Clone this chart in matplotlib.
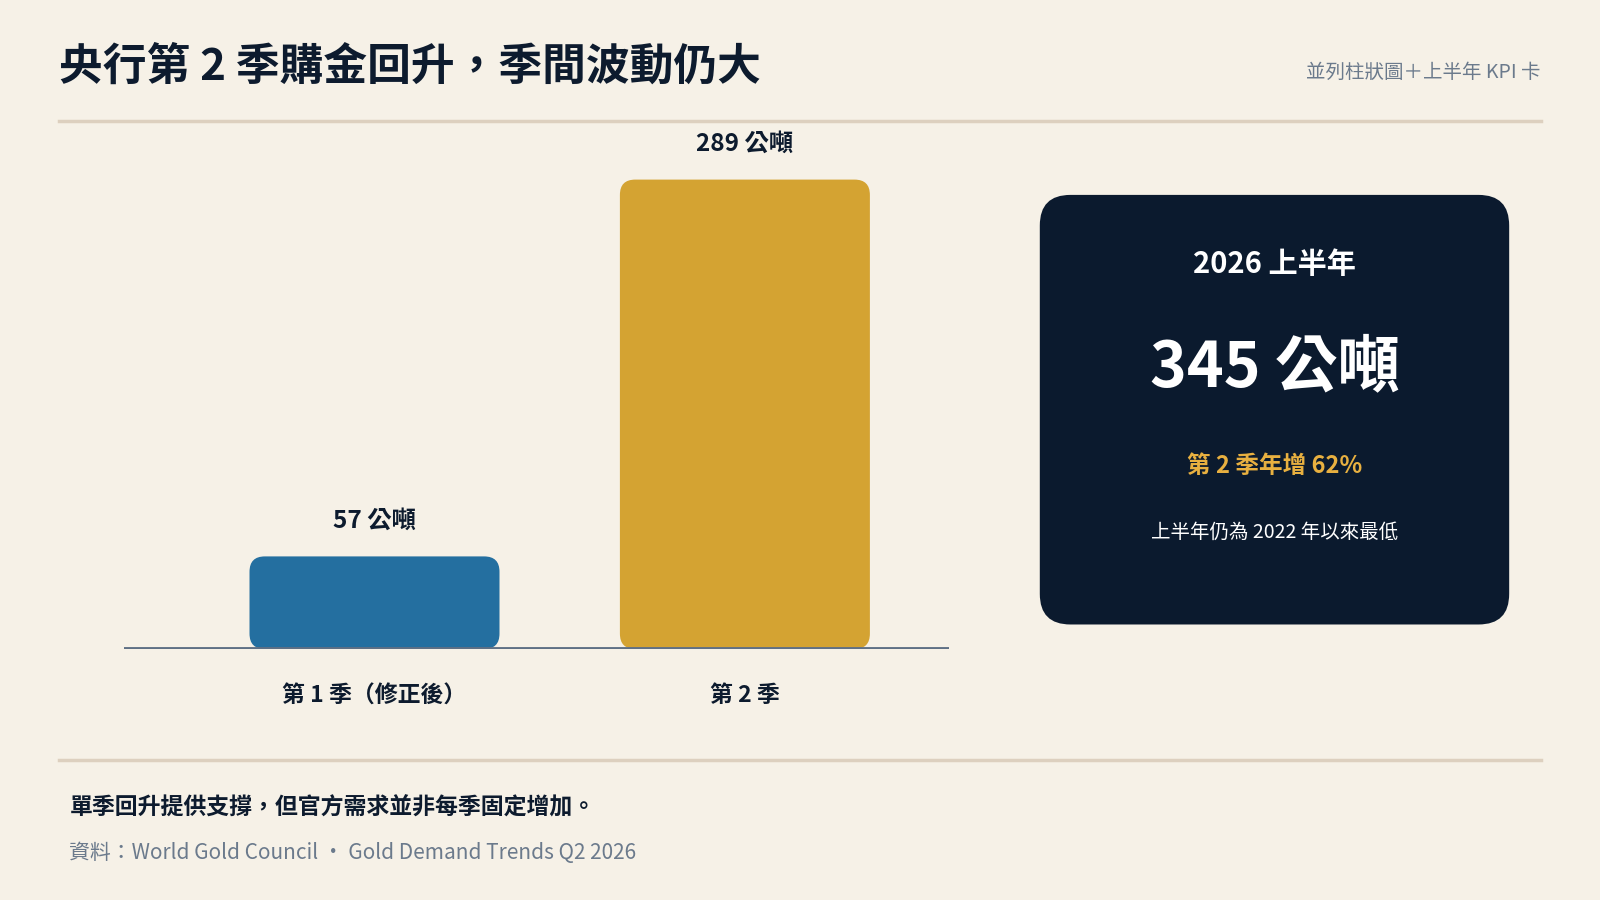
import matplotlib
matplotlib.use("Agg")
import matplotlib.pyplot as plt
from matplotlib.patches import FancyBboxPatch
from matplotlib.lines import Line2D

plt.rcParams['font.family'] = ['Noto Sans CJK TC', 'DejaVu Sans']

categories = ["第 1 季（修正後）", "第 2 季"]
values = [57, 289]
value_labels = ["57 公噸", "289 公噸"]
bar_colors = ["#246fa0", "#d4a332"]

W, H = 1568, 882
BG = "#f6f1e7"
DARK = "#0d1b2e"
GRAY = "#6b7a8c"

fig = plt.figure(figsize=(16, 9), dpi=100, facecolor=BG)

def fx(x): return x / W
def fy(y): return 1 - y / H

def T(x, y, s, **kw):
    fig.text(fx(x), fy(y), s, **kw)

T(58, 65, "央行第 2 季購金回升，季間波動仍大", fontsize=31.5, fontweight="bold", color=DARK, va="center", ha="left")
T(1510, 71, "並列柱狀圖＋上半年 KPI 卡", fontsize=14, fontweight="medium", color=GRAY, va="center", ha="right")
for yy in (119, 745):
    fig.add_artist(Line2D([fx(58), fx(1510)], [fy(yy), fy(yy)], color="#ddd0bf", lw=2.5))

ax = fig.add_axes([fx(122), fy(636), fx(930) - fx(122), fy(119) - fy(636)])
ax.set_facecolor("none")
ax.set_xlim(-0.675, 1.551)
ymax = (636 - 119) / 460 * 289
ax.set_ylim(0, ymax)
for s in ax.spines.values():
    s.set_visible(False)
ax.set_xticks([]); ax.set_yticks([])
bw = 245 / 363
px_x = 363
px_y = 460 / 289
r = 15
rx = r / px_x
for i, (v, c) in enumerate(zip(values, bar_colors)):
    p = FancyBboxPatch((i - bw / 2 + rx, rx * (px_x / px_y)), bw - 2 * rx, v - 2 * rx * (px_x / px_y),
                       boxstyle=f"round,pad={rx},rounding_size={rx}",
                       mutation_aspect=px_x / px_y, fc=c, ec="none", clip_on=False)
    ax.add_patch(p)
    ax.text(i, v + 22, value_labels[i], ha="center", va="center", fontsize=17.5, fontweight="bold", color=DARK)
    ax.text(i, -46 / px_y, categories[i], ha="center", va="center", fontsize=16.5, fontweight="bold", color=DARK, clip_on=False)
ax.axhline(0, color="#5f7085", lw=3.5)

cx0, cy0, cx1, cy1 = 1019, 191, 1479, 612
card = FancyBboxPatch((fx(cx0), fy(cy1)), fx(cx1) - fx(cx0), fy(cy0) - fy(cy1),
                      boxstyle=f"round,pad=0,rounding_size={30 / W}",
                      mutation_aspect=W / H, transform=fig.transFigure, fc="#0b1a2e", ec="none")
fig.add_artist(card)
cx = (cx0 + cx1) / 2
T(cx, 259, "2026 上半年", fontsize=21, fontweight="bold", color="white", ha="center", va="center")
T(cx, 360, "345 公噸", fontsize=45, fontweight="bold", color="white", ha="center", va="center")
T(cx, 457, "第 2 季年增 62%", fontsize=17, fontweight="bold", color="#e8b040", ha="center", va="center")
T(cx, 522, "上半年仍為 2022 年以來最低", fontsize=14, color="white", ha="center", va="center")

T(68, 792, "單季回升提供支撐，但官方需求並非每季固定增加。", fontsize=16.5, fontweight="bold", color=DARK, ha="left", va="center")
T(68, 836, "資料：World Gold Council ・ Gold Demand Trends Q2 2026", fontsize=15, color=GRAY, ha="left", va="center")

fig.savefig("out.png", dpi=100, facecolor=BG)
